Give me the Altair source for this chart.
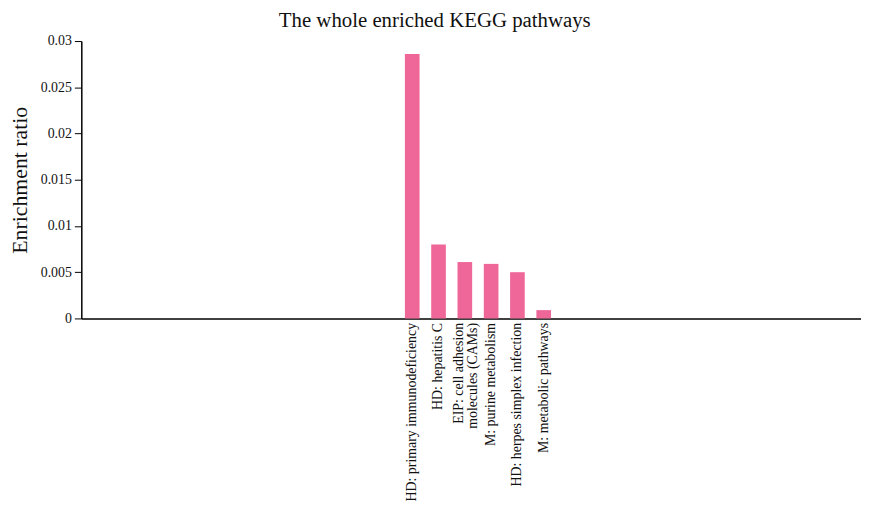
import altair as alt
import pandas as pd

pathways = [
    "HD: primary immunodeficiency",
    "HD: hepatitis C",
    "EIP: cell adhesion|molecules (CAMs)",
    "M: purine metabolism",
    "HD: herpes simplex infection",
    "M: metabolic pathways",
]
ratios = [0.0286, 0.0080, 0.0061, 0.0059, 0.0050, 0.0009]

left_blank = [f"_L{i}" for i in range(12)]
right_blank = [f"_R{i}" for i in range(11)]
domain = left_blank + pathways + right_blank

df = pd.DataFrame({"pathway": pathways, "ratio": ratios})

FONT = "Liberation Serif"

chart = (
    alt.Chart(df)
    .mark_bar(color="#EF6798")
    .encode(
        x=alt.X(
            "pathway:N",
            sort=domain,
            scale=alt.Scale(
                domain=domain, paddingInner=0.443, paddingOuter=0.547, align=0.28
            ),
            axis=alt.Axis(
                title=None,
                labelAngle=-90,
                labelAlign="right",
                labelBaseline="middle",
                labelExpr="indexof(datum.label, '_') == 0 ? '' : split(datum.label, '|')",
                labelOffset={
                    "condition": {"test": "indexof(datum.value, '|') >= 0", "value": -6},
                    "value": 0,
                },
                labelFont=FONT,
                labelFontSize=14,
                labelColor="#111111",
                labelPadding=4,
                labelLimit=400,
                labelLineHeight=14,
                ticks=False,
                domainColor="#000000",
                domainWidth=1.5,
            ),
        ),
        y=alt.Y(
            "ratio:Q",
            scale=alt.Scale(domain=[0, 0.03], nice=False),
            axis=alt.Axis(
                title="Enrichment ratio",
                values=[0, 0.005, 0.01, 0.015, 0.02, 0.025, 0.03],
                format=".3~f",
                grid=False,
                tickSize=7,
                tickColor="#000000",
                domainColor="#000000",
                domainWidth=1.5,
                labelFont=FONT,
                labelFontSize=14,
                labelColor="#111111",
                labelPadding=3,
                titleFont=FONT,
                titleFontSize=22,
                titleFontWeight="normal",
                titleColor="#111111",
                titlePadding=9,
            ),
        ),
    )
    .properties(
        width=787,
        height=280,
        title=alt.TitleParams(
            "The whole enriched KEGG pathways",
            font=FONT,
            fontSize=21,
            fontWeight="normal",
            color="#111111",
            anchor="middle",
            frame="bounds",
            offset=3,
        ),
        padding={"left": 0, "top": 0, "right": 0, "bottom": 5},
    )
    .configure_view(stroke=None)
)

chart.save("out.html", embed_options={"renderer": "svg", "actions": False})
